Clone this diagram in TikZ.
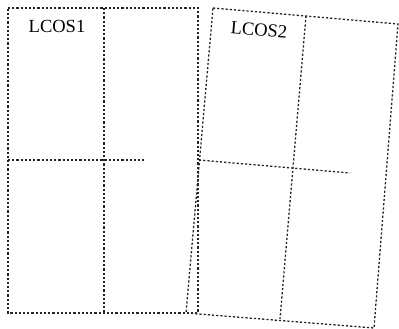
\documentclass[tikz,border=0pt]{standalone}
\usepackage{fontspec}
\setmainfont{Liberation Serif}
\begin{document}
\begin{tikzpicture}[x=1pt,y=-1pt,
  dotline/.style={line width=1.3pt, dash pattern=on 2.2pt off 2pt, black!85},
  lbl/.style={font=\fontsize{18.5}{20}\selectfont, inner sep=0pt}]
\useasboundingbox (0,0) rectangle (399,329);
% LCOS1
\coordinate (a1) at (8,8);
\coordinate (b1) at (198,8);
\coordinate (c1) at (198,313);
\coordinate (d1) at (8,313);
\coordinate (t1) at (104,8);
\coordinate (u1) at (104,313);
\coordinate (l1) at (8,160);
\coordinate (r1) at (144,160);
\draw[dotline] (a1) -- (b1) -- (c1) -- (d1) -- cycle;
\draw[dotline] (t1) -- (u1);
\draw[dotline] (l1) -- (r1);
\node[lbl] (n1) at (57,26) {LCOS1};
% LCOS2
\coordinate (a2) at (213,8);
\coordinate (b2) at (398,24);
\coordinate (c2) at (374,328);
\coordinate (d2) at (186,313);
\coordinate (t2) at (306,16);
\coordinate (u2) at (280,319);
\coordinate (l2) at (199,160);
\coordinate (r2) at (350,173);
\draw[dotline] (a2) -- (b2) -- (c2) -- (d2) -- cycle;
\draw[dotline] (t2) -- (u2);
\draw[dotline] (l2) -- (r2);
\node[lbl, rotate=-5] (n2) at (259,30) {LCOS2};
\end{tikzpicture}
\end{document}
